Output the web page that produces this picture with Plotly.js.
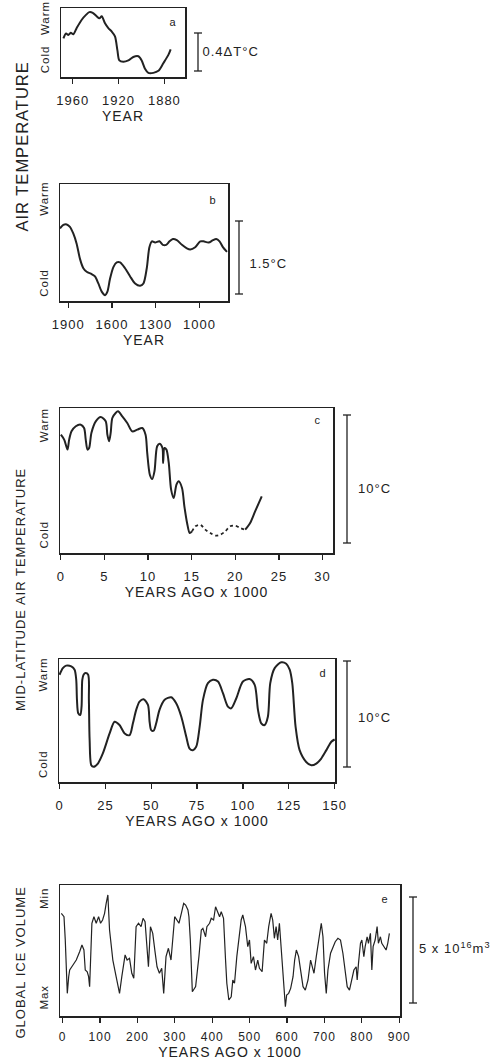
<!DOCTYPE html>
<html>
<head>
<meta charset="utf-8">
<script src="https://cdn.plot.ly/plotly-3.0.1.min.js"></script>
<style>
  html, body { margin: 0; padding: 0; background: #fff; }
  #chart { width: 497px; height: 1063px; }
  #chart svg text { letter-spacing: 1px; }
</style>
</head>
<body>
<div id="chart"></div>
<script>
// ---------- DATA ----------
// Panel a: air temperature, last ~100 years (relative warm/cold index)
const aYears = [1968.1,1965.8,1963.8,1961.7,1959.4,1956.5,1952.1,1948.4,1945.5,1942.5,1939.1,1936.7,1934.7,1931.8,1928.9,1926.0,1923.1,1921.0,1919.3,1915.8,1911.4,1907.1,1902.7,1899.8,1896.9,1894.0,1889.6,1885.2,1880.9,1876.5,1874.5];
const aTemp  = [56,63,61,64,62,71,83,90,94,93,88,85,88,78,71,66,59,39,24,22,24,29,30,24,12,6,6,9,20,32,40];
const aTicks = [1960,1920,1880];

// Panel b: air temperature, last ~1000 years
const bYears = [1957,1934,1911,1889,1866,1843,1820,1797,1774,1740,1717,1694,1671,1648,1632,1614,1591,1568,1545,1511,1476,1442,1408,1385,1362,1344,1327,1305,1275,1252,1229,1206,1183,1156,1121,1087,1064,1030,995,973,938,908,886,863,840,812];
const bTemp  = [62,65,65.4,63.4,57.7,49,36,28,25,23,21,15,8,5,8,19,29,33,33,28,21,15,13,15,28,46,51,50,51,48,48,51,53,52,48,45,44,46,51,51,50,52,53,51,46,42];
const bTicks = [1900,1600,1300,1000];

// Panel c: mid-latitude air temperature, last ~25 000 years (solid / dotted / solid)
const cAgeSolid1  = [0,0.38,0.76,0.95,1.22,1.71,2.28,2.66,2.85,3.05,3.24,3.50,4.00,4.57,5.14,5.33,5.52,5.71,5.90,6.28,6.55,7.04,7.61,8.18,8.76,9.33,9.71,9.90,10.20,10.47,10.73,11.04,11.34,11.65,11.72,11.88,12.10,12.37,12.64,12.94,13.25,13.51,13.89,14.16,14.47,14.77,15.04];
const cTempSolid1 = [81.6,78.2,71.3,78.2,83.9,87.4,88.5,86.2,78.2,71.3,72.4,82.8,90.8,93.8,90.8,81.6,77.0,82.8,93.1,96.6,97.7,94.3,89.7,83.9,85.1,86.2,81.6,69.0,54.0,51.0,56.3,73.6,75.4,72.4,62.1,72.4,71.3,62.1,43.7,37.9,47.1,49.4,44.8,32.2,20.7,13.8,14.9];
const cAgeDotted  = [15.04,15.42,15.99,16.56,17.13,17.70,18.27,18.84,19.41,19.98,20.56,21.13];
const cTempDotted = [14.9,18.4,19.5,16.1,13.8,12.0,12.6,14.9,18.4,18.9,17.2,16.1];
const cAgeSolid2  = [21.13,21.70,22.27,23.03];
const cTempSolid2 = [16.1,20.7,28.7,39.1];
const cTicks = [0,5,10,15,20,25,30];

// Panel d: mid-latitude air temperature, last 150 000 years
const dAge  = [0,1.8,3.6,6.4,8.2,9.1,9.5,10.2,11.3,12.0,12.4,13.1,14.2,15.6,16.0,16.4,17.3,18.5,20.9,23.6,27.3,30.0,32.7,35.5,38.2,40.0,41.8,43.6,45.8,48.2,49.1,50.0,51.3,52.7,54.5,57.3,60.9,63.6,66.4,69.1,70.9,72.7,74.5,76.4,78.2,80.9,83.6,86.4,89.1,91.8,93.6,96.4,100.0,103.6,106.4,108.2,110.0,111.8,113.6,114.9,117.3,120.9,123.6,125.5,126.9,128.7,130.9,134.5,137.3,140.0,142.7,145.5,148.2,150.0];
const dTemp = [87.2,92.6,94.6,94.0,91.3,83.1,66.8,55.9,54.5,61.3,83.1,87.2,88.6,87.2,66.8,34.1,13.6,12.3,15.0,23.2,39.5,49.0,46.3,39.5,38.1,47.7,58.6,65.4,67.3,62.7,49.0,42.2,41.7,47.7,58.6,66.8,68.9,64.0,53.1,36.8,27.2,25.9,28.6,45.0,66.8,80.4,83.1,81.7,72.2,61.3,59.9,68.1,81.7,83.7,79.0,58.6,47.7,46.3,53.1,80.4,92.6,97.3,96.2,91.3,80.4,45.0,25.9,16.3,13.6,15.0,19.1,25.9,32.7,34.6];
const dTicks = [0,25,50,75,100,125,150];

// Panel e: global ice volume (higher = less ice), last ~880 000 years
const eAge = [-3.7,3.5,6.9,12.3,16.0,18.7,27.5,36.3,45.3,51.5,56.8,60.3,65.6,69.3,72.0,74.7,78.1,83.5,89.6,96.0,101.3,106.7,112.0,116.3,120.8,125.3,134.1,142.9,152.0,158.1,163.5,166.9,172.3,178.7,184.8,190.1,196.3,202.7,209.6,214.9,220.3,225.6,229.3,234.7,240.8,246.9,252.3,258.7,264.8,270.1,276.3,282.7,289.6,299.5,305.6,310.9,317.3,323.5,328.8,334.9,337.6,341.3,346.7,355.5,364.3,370.7,374.9,382.1,385.6,392.8,397.3,403.5,408.8,414.9,419.5,424.0,430.1,435.5,438.9,444.3,450.7,454.9,459.5,465.6,470.9,477.3,481.6,488.8,494.9,499.5,504.0,510.1,515.5,521.6,526.1,533.3,539.5,545.6,550.9,557.3,561.6,566.1,570.7,574.9,579.5,584.0,590.1,595.5,598.9,604.3,609.6,616.0,620.3,624.8,630.9,636.3,642.7,648.8,656.0,662.9,666.7,672.0,678.1,682.7,686.9,691.5,696.0,700.3,704.8,709.3,716.3,722.7,728.8,736.0,742.9,749.3,755.5,760.8,766.9,773.3,778.7,784.8,787.5,791.0,796.3,800.0,805.3,808.8,814.1,817.6,822.9,826.7,830.1,835.5,840.8,844.3,849.6,853.3,858.7,864.8,869.3,873.6];
const eIce = [78.4,75.8,58.0,17.3,30.0,35.1,38.9,42.7,49.1,54.2,50.4,35.1,33.8,30.0,22.4,52.9,70.8,75.8,70.8,75.8,70.8,73.3,78.4,86.0,92.4,65.6,42.7,30.0,17.3,30.0,40.2,46.6,42.7,44.0,32.6,28.8,68.2,70.8,68.2,74.6,72.0,52.9,37.6,68.2,63.1,49.1,37.6,32.6,36.4,17.3,45.3,51.7,42.7,75.8,73.3,70.8,78.4,86.0,84.7,80.9,75.8,58.0,18.5,22.4,45.3,65.6,66.9,60.5,68.2,70.8,74.6,73.3,83.4,79.6,75.8,79.6,74.6,42.7,25.0,12.2,14.7,27.5,25.0,45.3,60.5,73.3,77.1,68.2,52.9,58.0,40.2,45.3,35.1,42.7,36.4,33.8,58.0,55.5,68.2,78.4,73.3,59.3,68.2,58.0,70.8,52.9,27.5,7.1,16.0,17.3,21.1,30.0,42.7,50.4,45.3,35.1,22.4,19.8,27.5,42.7,37.6,32.6,45.3,52.9,63.1,70.8,60.5,32.6,17.3,35.1,47.9,52.9,56.7,59.3,58.0,47.9,32.6,22.4,19.8,27.5,35.1,37.6,27.5,40.2,55.5,58.0,45.3,52.9,60.5,55.5,63.1,35.1,52.9,58.0,68.2,55.5,60.5,55.5,52.9,50.4,55.5,63.1];
const eTicks = [0,100,200,300,400,500,600,700,800,900];

// Axis labels / scale-bar labels
const tempTickText = ['Cold','Warm'];
const iceTickText  = ['Max','Min'];
const panelLetters = ['a','b','c','d','e'];
const scaleLabels  = ['0.4\u0394T\u00B0C','1.5\u00B0C','10\u00B0C','10\u00B0C','5 x 10<sup>16</sup>m<sup>3</sup>'];
const groupTitles  = ['AIR TEMPERATURE','MID-LATITUDE AIR TEMPERATURE','GLOBAL ICE VOLUME'];

// ---------- LAYOUT HELPERS ----------
const W = 497, H = 1063;
const px = x => x / W;
const py = y => 1 - y / H;
const INK = '#222';
const FONT = 'Liberation Sans, DejaVu Sans, sans-serif';

function xAxis(x0, x1, range, tickvals, title, yname, tsize) {
  return {
    domain: [px(x0), px(x1)], range: range, anchor: yname,
    tickvals: tickvals, ticks: 'outside', ticklen: 5, tickwidth: 1.2, tickcolor: INK,
    ticklabelstandoff: 6,
    showline: true, linewidth: 1.5, linecolor: INK, mirror: true,
    showgrid: false, zeroline: false, fixedrange: true,
    tickfont: {family: FONT, size: tsize || 13, color: INK},
    title: {text: title, font: {family: FONT, size: 14, color: INK}, standoff: 4}
  };
}
function yAxis(yTop, yBot, tickvals, ticktext, xname) {
  return {
    domain: [py(yBot), py(yTop)], range: [0, 100], anchor: xname,
    tickvals: tickvals, ticktext: ticktext, tickangle: -90, ticks: '',
    ticklabelstandoff: 6,
    showline: true, linewidth: 1.5, linecolor: INK, mirror: true,
    showgrid: false, zeroline: false, fixedrange: true,
    tickfont: {family: FONT, size: 11.5, color: INK}
  };
}

const smooth = {color: INK, width: 2, shape: 'spline', smoothing: 0.8};
const traces = [
  {x: aYears, y: aTemp, xaxis: 'x', yaxis: 'y', mode: 'lines', line: smooth},
  {x: bYears, y: bTemp, xaxis: 'x2', yaxis: 'y2', mode: 'lines', line: smooth},
  {x: cAgeSolid1, y: cTempSolid1, xaxis: 'x3', yaxis: 'y3', mode: 'lines', line: smooth},
  {x: cAgeDotted, y: cTempDotted, xaxis: 'x3', yaxis: 'y3', mode: 'lines', line: Object.assign({}, smooth, {dash: 'dot', width: 1.8})},
  {x: cAgeSolid2, y: cTempSolid2, xaxis: 'x3', yaxis: 'y3', mode: 'lines', line: smooth},
  {x: dAge, y: dTemp, xaxis: 'x4', yaxis: 'y4', mode: 'lines', line: smooth},
  {x: eAge, y: eIce, xaxis: 'x5', yaxis: 'y5', mode: 'lines', line: {color: INK, width: 1.2}}
];

// scale bars: [x, yTop, yBottom, labelX, labelY]
const bars = [[198,33,71,204,52],[239,221,294,250,263],[347,415,543,358,488],[347,661,767,358,717],[413,897,1003,422,948]];
// panel letter positions
const letterPos = [[173,22],[213,200],[318,420],[323,673],[385,899]];
// group title positions [x, y, fontsize]
const titlePos = [[22,147,16.5],[20,589,13],[20,962,13]];

const shapes = [];
const annotations = [];
bars.forEach((b, i) => {
  const [x, y0, y1, lx, ly] = b;
  const ln = {color: INK, width: 1.3};
  shapes.push({type: 'line', xref: 'paper', yref: 'paper', x0: px(x), x1: px(x), y0: py(y0), y1: py(y1), line: ln});
  shapes.push({type: 'line', xref: 'paper', yref: 'paper', x0: px(x - 4), x1: px(x + 4), y0: py(y0), y1: py(y0), line: ln});
  shapes.push({type: 'line', xref: 'paper', yref: 'paper', x0: px(x - 4), x1: px(x + 4), y0: py(y1), y1: py(y1), line: ln});
  annotations.push({xref: 'paper', yref: 'paper', x: px(lx), y: py(ly), xanchor: 'left', yanchor: 'middle',
    text: scaleLabels[i], showarrow: false, font: {family: FONT, size: 13, color: INK}});
});
letterPos.forEach((p, i) => {
  annotations.push({xref: 'paper', yref: 'paper', x: px(p[0]), y: py(p[1]), xanchor: 'center', yanchor: 'middle',
    text: panelLetters[i], showarrow: false, font: {family: FONT, size: 11, color: INK}});
});
groupTitles.forEach((t, i) => {
  const [x, y, s] = titlePos[i];
  annotations.push({xref: 'paper', yref: 'paper', x: px(x), y: py(y), xanchor: 'center', yanchor: 'middle',
    text: t, textangle: -90, showarrow: false, font: {family: FONT, size: s, color: INK}});
});

const layout = {
  width: W, height: H, margin: {l: 0, r: 0, t: 0, b: 0},
  paper_bgcolor: '#fff', plot_bgcolor: '#fff', showlegend: false,
  font: {family: FONT, color: INK},
  xaxis:  xAxis(61, 185, [1970.2, 1862], aTicks, 'YEAR', 'y'),
  yaxis:  yAxis(8, 77, [23, 83], tempTickText, 'x'),
  xaxis2: xAxis(60, 228, [1957, 805], bTicks, 'YEAR', 'y2'),
  yaxis2: yAxis(184, 301, [14, 86], tempTickText, 'x2'),
  xaxis3: xAxis(60, 333, [-0.1, 31.2], cTicks, 'YEARS AGO x 1000', 'y3'),
  yaxis3: yAxis(408, 553, [11.5, 87], tempTickText, 'x3'),
  xaxis4: xAxis(59, 335, [-0.3, 150.2], dTicks, 'YEARS AGO x 1000', 'y4'),
  yaxis4: yAxis(659, 782, [13, 86], tempTickText, 'x4'),
  xaxis5: xAxis(60, 400, [-7.2, 902], eTicks, 'YEARS AGO x 1000', 'y5', 12),
  yaxis5: yAxis(885, 1016, [13, 88.5], iceTickText, 'x5'),
  shapes: shapes,
  annotations: annotations
};
layout.xaxis5.ticklabelstandoff = 4;

Plotly.newPlot('chart', traces, layout, {staticPlot: true, displayModeBar: false});
</script>
</body>
</html>
